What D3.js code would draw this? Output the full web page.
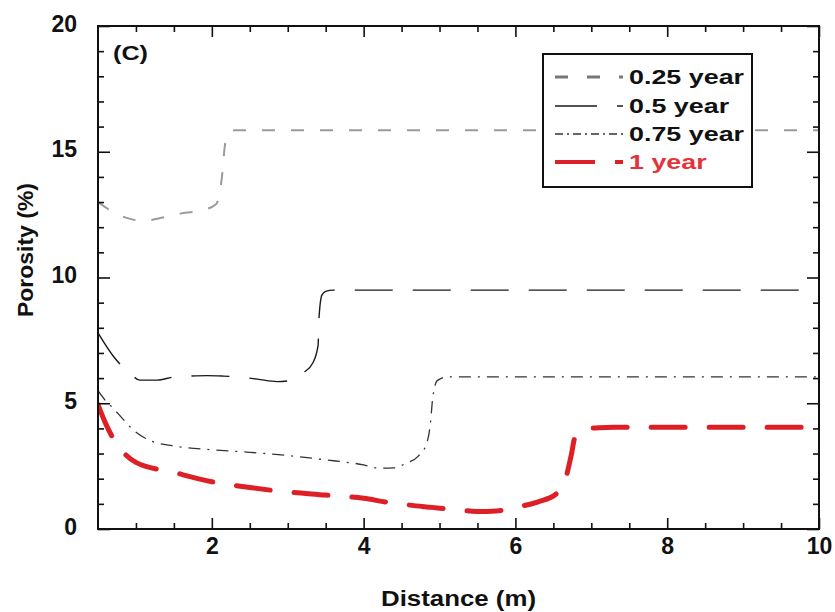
<!DOCTYPE html>
<html><head><meta charset="utf-8">
<script src="https://cdn.jsdelivr.net/npm/d3@7"></script>
<style>
body{margin:0;background:#fff;}
text{font-family:"Liberation Sans",Arial,Helvetica,sans-serif;font-weight:bold;}
</style></head>
<body>
<svg id="chart" width="835" height="612"></svg>
<script>
// ---- data ----
const seriesNames = ["0.25 year", "0.5 year", "0.75 year", "1 year"];
const x025 = [0.5,0.7,0.9,1.1,1.3,1.6,1.9,2.05,2.1,2.14,2.17,2.22,2.3,10];
const y025 = [13.0,12.6,12.35,12.25,12.35,12.55,12.7,12.9,13.3,14.2,15.2,15.75,15.85,15.85];
const x05 = [0.5,0.72,0.92,1.05,1.28,1.49,1.71,1.94,2.15,2.37,2.6,2.86,3.03,3.2,3.33,3.4,3.41,3.45,3.5,3.6,10];
const y05 = [7.8,6.8,6.2,5.92,5.92,6.04,6.08,6.1,6.08,6.04,5.96,5.86,5.9,6.2,6.6,7.3,8.3,9.3,9.45,9.5,9.5];
const x075 = [0.5,0.6,0.7,0.82,0.96,1.2,1.5,2.0,2.5,3.0,3.5,4.0,4.2,4.4,4.55,4.72,4.83,4.88,4.91,4.97,5.1,10];
const y075 = [5.5,5.1,4.8,4.4,3.95,3.5,3.3,3.15,3.05,2.92,2.75,2.55,2.42,2.43,2.6,2.9,3.4,4.2,5.2,5.9,6.05,6.05];
const x1 = [0.5,0.6,0.7,0.85,1.0,1.5,2.0,2.5,3.0,3.5,4.0,4.3,4.6,4.9,5.2,5.5,5.75,6.0,6.3,6.55,6.67,6.74,6.78,6.9,7.1,7.3,10];
const y1 = [4.95,4.2,3.6,3.0,2.65,2.25,1.88,1.65,1.47,1.35,1.22,1.07,0.95,0.86,0.77,0.7,0.72,0.86,1.08,1.43,2.1,3.0,3.6,3.95,4.03,4.05,4.05];
const xMajorTicks = [2,4,6,8,10];
const xMinorTicks = [1,1.5,2.5,3,3.5,4.5,5,5.5,6.5,7,7.5,8.5,9,9.5];
const yMajorTicks = [0,5,10,15,20];
const yMinorTicks = [1,2,3,4,6,7,8,9,11,12,13,14,16,17,18,19];

// ---- layout ----
const L = 98, R = 819, T = 26, B = 529;
const svg = d3.select("#chart");
const x = d3.scaleLinear().domain([0.5,10]).range([L,R]);
const y = d3.scaleLinear().domain([0,20]).range([B,T]);

const styles = [
  {color:"#9a9a9a", legend:"#777", width:2, dash:"13,16", cap:"butt"},
  {color:"#1a1a1a", legend:"#1a1a1a", width:1.4, dash:"38,20", cap:"butt"},
  {color:"#333", legend:"#333", width:1.3, dash:"12,7,2,7", cap:"butt"},
  {color:"#dd1f26", legend:"#dd1f26", width:5, dash:"34,24", cap:"round"}
];
const data = [
  x025.map((d,i)=>[d,y025[i]]),
  x05.map((d,i)=>[d,y05[i]]),
  x075.map((d,i)=>[d,y075[i]]),
  x1.map((d,i)=>[d,y1[i]])
];

svg.append("clipPath").attr("id","clip").append("rect")
  .attr("x",L).attr("y",T).attr("width",R-L).attr("height",B-T);

const line = d3.line().x(d=>x(d[0])).y(d=>y(d[1])).curve(d3.curveMonotoneX);
const gl = svg.append("g").attr("clip-path","url(#clip)");
data.forEach((s,i)=>{
  gl.append("path").attr("d",line(s)).attr("fill","none")
    .attr("stroke",styles[i].color).attr("stroke-width",styles[i].width)
    .attr("stroke-dasharray",styles[i].dash).attr("stroke-linecap",styles[i].cap);
});

// ---- axes ----
function styleAxis(g){ g.select(".domain").remove(); g.selectAll("line").attr("stroke","#111").attr("stroke-width",1.6); }
svg.append("g").attr("transform",`translate(0,${B})`)
  .call(d3.axisBottom(x).tickValues(xMajorTicks).tickSize(-11).tickPadding(9).tickFormat(d3.format("d")))
  .call(styleAxis).selectAll("text").attr("font-size",23).attr("fill","#111");
svg.append("g").attr("transform",`translate(0,${B})`)
  .call(d3.axisBottom(x).tickValues(xMinorTicks).tickSize(-6).tickFormat("")).call(styleAxis);
svg.append("g").attr("transform",`translate(0,${T})`)
  .call(d3.axisTop(x).tickValues(xMajorTicks).tickSize(-11).tickFormat("")).call(styleAxis);
svg.append("g").attr("transform",`translate(0,${T})`)
  .call(d3.axisTop(x).tickValues(xMinorTicks).tickSize(-6).tickFormat("")).call(styleAxis);
svg.append("g").attr("transform",`translate(${L},0)`)
  .call(d3.axisLeft(y).tickValues(yMajorTicks).tickSize(-12).tickPadding(21))
  .call(styleAxis).selectAll("text").attr("font-size",23).attr("fill","#111").attr("dy","0.22em");
svg.append("g").attr("transform",`translate(${L},0)`)
  .call(d3.axisLeft(y).tickValues(yMinorTicks).tickSize(-6).tickFormat("")).call(styleAxis);
svg.append("g").attr("transform",`translate(${R},0)`)
  .call(d3.axisRight(y).tickValues(yMajorTicks).tickSize(-12).tickFormat("")).call(styleAxis);
svg.append("g").attr("transform",`translate(${R},0)`)
  .call(d3.axisRight(y).tickValues(yMinorTicks).tickSize(-6).tickFormat("")).call(styleAxis);

svg.append("rect").attr("x",L).attr("y",T).attr("width",R-L).attr("height",B-T)
  .attr("fill","none").attr("stroke","#111").attr("stroke-width",2);

// ---- titles ----
svg.append("text").attr("x",(L+R)/2).attr("y",606).attr("text-anchor","middle")
  .attr("font-size",22).attr("fill","#111").attr("textLength",155).attr("lengthAdjust","spacingAndGlyphs")
  .text("Distance (m)");
svg.append("text").attr("transform","translate(33,250) rotate(-90)").attr("text-anchor","middle")
  .attr("font-size",22).attr("fill","#111").attr("textLength",134).attr("lengthAdjust","spacingAndGlyphs")
  .text("Porosity (%)");
svg.append("text").attr("x",113).attr("y",60).attr("font-size",20).attr("fill","#111")
  .attr("textLength",35).attr("lengthAdjust","spacingAndGlyphs").text("(C)");

// ---- legend ----
const lg = svg.append("g");
lg.append("rect").attr("x",543).attr("y",54).attr("width",209).attr("height",133)
  .attr("fill","#fff").attr("stroke","#111").attr("stroke-width",2);
const legBase = [84,113,141,169];
const legStyles = [
  {dash:"13,19", w:3},
  {dash:"42,20", w:1.6},
  {dash:"8,4,2,4", w:1.6},
  {dash:"40,20", w:4}
];
seriesNames.forEach((name,i)=>{
  const yy = legBase[i]-7;
  lg.append("line").attr("x1",555).attr("x2",623).attr("y1",yy).attr("y2",yy)
    .attr("stroke",styles[i].legend).attr("stroke-width",legStyles[i].w)
    .attr("stroke-dasharray",legStyles[i].dash);
  lg.append("text").attr("transform",`translate(629,${legBase[i]}) scale(1.28,1)`)
    .attr("font-size",21).attr("fill", i===3 ? "#e3343b" : "#111").text(name);
});
</script>
</body></html>
